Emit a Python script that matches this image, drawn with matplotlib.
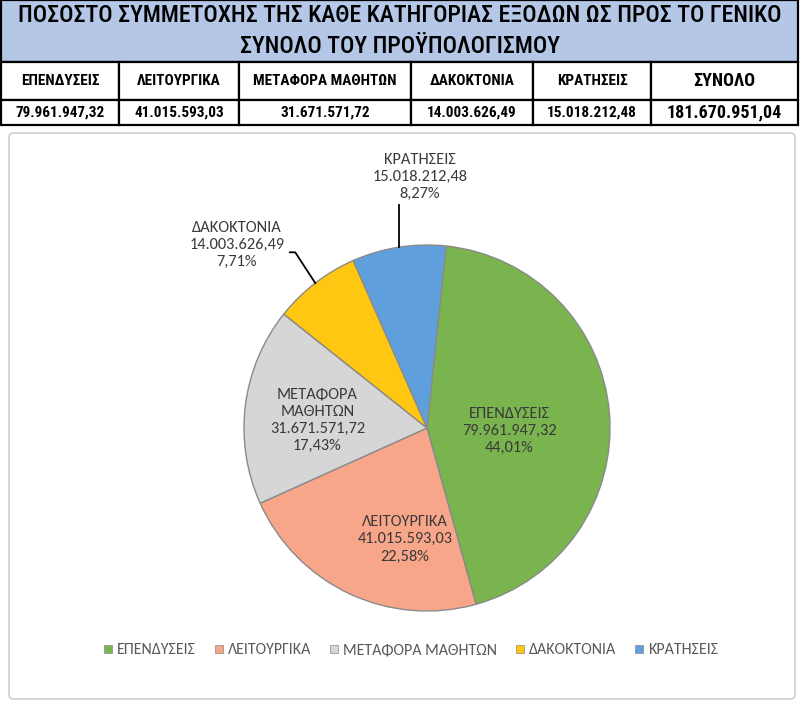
import numpy as np
import matplotlib
matplotlib.use('Agg')
import matplotlib.pyplot as plt
from matplotlib.patches import Rectangle, FancyBboxPatch
from matplotlib.lines import Line2D

# Data
categories = ['ΕΠΕΝΔΥΣΕΙΣ', 'ΛΕΙΤΟΥΡΓΙΚΑ', 'ΜΕΤΑΦΟΡΑ ΜΑΘΗΤΩΝ', 'ΔΑΚΟΚΤΟΝΙΑ', 'ΚΡΑΤΗΣΕΙΣ']
values = [79961947.32, 41015593.03, 31671571.72, 14003626.49, 15018212.48]
value_labels = ['79.961.947,32', '41.015.593,03', '31.671.571,72', '14.003.626,49', '15.018.212,48']
pct_labels = ['44,01%', '22,58%', '17,43%', '7,71%', '8,27%']
pie_names = ['ΕΠΕΝΔΥΣΕΙΣ', 'ΛΕΙΤΟΥΡΓΙΚΑ', 'ΜΕΤΑΦΟΡΑ\nΜΑΘΗΤΩΝ', 'ΔΑΚΟΚΤΟΝΙΑ', 'ΚΡΑΤΗΣΕΙΣ']
total_label = '181.670.951,04'
title = 'ΠΟΣΟΣΤΟ ΣΥΜΜΕΤΟΧΗΣ ΤΗΣ ΚΑΘΕ ΚΑΤΗΓΟΡΙΑΣ ΕΞΟΔΩΝ ΩΣ ΠΡΟΣ ΤΟ ΓΕΝΙΚΟ\nΣΥΝΟΛΟ ΤΟΥ ΠΡΟΫΠΟΛΟΓΙΣΜΟΥ'

colors = ['#79b44e', '#f7a68a', '#d6d6d6', '#ffc612', '#5fa0dc']

W, H = 800, 705
fig = plt.figure(figsize=(W / 100, H / 100), dpi=100)
fig.patch.set_facecolor('white')

narrow = ['Roboto Condensed', 'Fira Sans Condensed', 'DejaVu Sans']
body = ['Carlito', 'Open Sans', 'DejaVu Sans']


def fx(px):
    return px / W


def fy(py):
    return 1 - py / H


# ---- chart frame (behind everything) ----
fig.patches.append(FancyBboxPatch((fx(9), fy(699)), fx(786), 566 / H,
                                  boxstyle='round,pad=0,rounding_size=0.006',
                                  transform=fig.transFigure, facecolor='white',
                                  edgecolor='#d0d0d0', lw=1.2, zorder=-5))

# ---- header table ----
fig.patches.append(Rectangle((fx(1), fy(62)), fx(797), 62 / H, transform=fig.transFigure,
                             facecolor='#b4c7e7', edgecolor='black', lw=1.6))
fig.text(0.5, fy(31), title, ha='center', va='center', fontsize=17.2,
         fontweight='medium', family=narrow, linespacing=1.45)

col_edges = [1, 119, 239, 411, 533, 651, 798]
row_edges = [62, 100, 125]
for r in range(2):
    for c in range(6):
        x0, x1 = col_edges[c], col_edges[c + 1]
        y0, y1 = row_edges[r], row_edges[r + 1]
        fig.patches.append(Rectangle((fx(x0), fy(y1)), fx(x1 - x0), (y1 - y0) / H,
                                     transform=fig.transFigure, facecolor='white',
                                     edgecolor='black', lw=1.6))
        if r == 0:
            txt = categories[c] if c < 5 else 'ΣΥΝΟΛΟ'
        else:
            txt = value_labels[c] if c < 5 else total_label
        size = 13 if c == 5 else 11
        fig.text(fx((x0 + x1) / 2), fy((y0 + y1) / 2), txt, ha='center', va='center',
                 fontsize=size, fontweight='bold', family=narrow)

# ---- pie ----
R = 183
cx, cy = 427, 428
half = 250
ax = fig.add_axes([fx(cx - half), fy(cy + half), 2 * half / W, 2 * half / H])
ax.axis('off')

start = 84
wedges, _ = ax.pie(values, colors=colors, startangle=start, counterclock=False,
                   radius=1, wedgeprops=dict(edgecolor='#8a8a8a', linewidth=1.0))
ax.set_xlim(-half / R, half / R)
ax.set_ylim(-half / R, half / R)
ax.set_aspect('equal')

fracs = np.array(values) / sum(values)
ends = start - np.cumsum(fracs) * 360
starts = ends + fracs * 360
mids = np.deg2rad((starts + ends) / 2)

lbl_kw = dict(ha='center', va='center', fontsize=11.8, color='#3a3a3a',
              family=body, linespacing=1.28)

# inside labels (radius, angle offset in degrees)
inside = {0: (0.45, -7), 1: (0.62, 14), 2: (0.6, 3)}
for i, (rr, dang) in inside.items():
    a = mids[i] + np.deg2rad(dang)
    ax.text(rr * np.cos(a), rr * np.sin(a),
            f'{pie_names[i]}\n{value_labels[i]}\n{pct_labels[i]}', **lbl_kw)

# outside labels with leader lines
# ΚΡΑΤΗΣΕΙΣ
i = 4
ex, ey = np.cos(mids[i]), np.sin(mids[i])
ax.plot([ex, ex], [ey, 1.22], color='black', lw=1.3)
ax.text(-0.04, 1.37, f'{pie_names[i]}\n{value_labels[i]}\n{pct_labels[i]}', **lbl_kw)

# ΔΑΚΟΚΤΟΝΙΑ
i = 3
ex, ey = np.cos(mids[i]), np.sin(mids[i])
ax.plot([ex, -0.72, -0.75], [ey, 0.96, 0.96], color='black', lw=1.3)
ax.text(-1.04, 1.0, f'{pie_names[i]}\n{value_labels[i]}\n{pct_labels[i]}', **lbl_kw)

# ---- legend ----
handles = [Line2D([], [], marker='s', linestyle='none', markersize=6,
                  markerfacecolor=c, markeredgecolor='#8a8a8a', markeredgewidth=0.5)
           for c in colors]
leg = fig.legend(handles, categories, loc='center', bbox_to_anchor=(fx(409), fy(650)),
                 ncol=5, frameon=False, handletextpad=0.05, columnspacing=0.95,
                 handlelength=1.0, prop={'family': body, 'size': 11.5})
for t in leg.get_texts():
    t.set_color('#595959')

fig.savefig('out.png', dpi=100)
